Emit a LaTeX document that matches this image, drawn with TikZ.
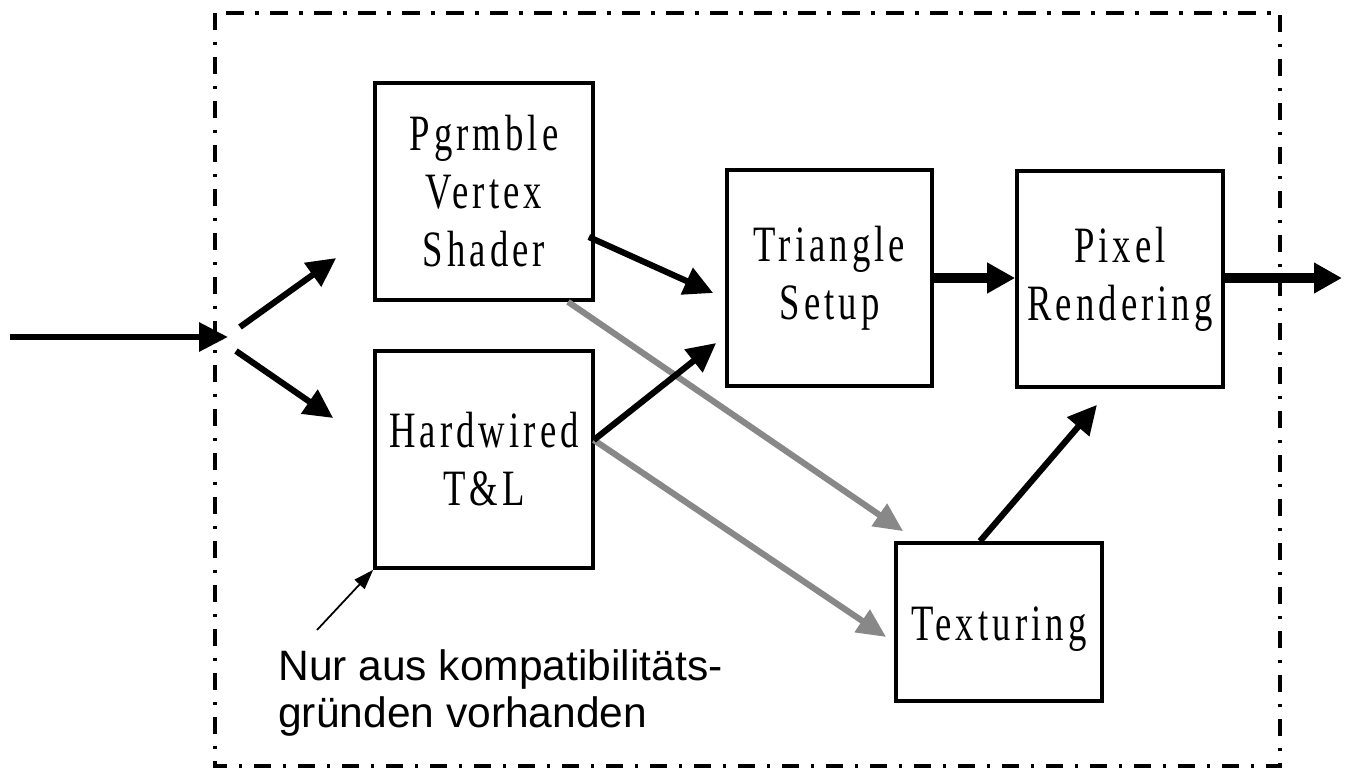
\documentclass[tikz,border=0pt]{standalone}
\usepackage{fontspec}
\setmainfont{Liberation Serif}
\newfontfamily\boxfont{Liberation Serif}[FakeStretch=0.72,LetterSpace=8]
\newfontfamily\notefont{Liberation Sans}
\usetikzlibrary{arrows.meta,calc}
\definecolor{arrowgray}{RGB}{136,136,136}
\tikzset{
  stage/.style={draw=black, line width=2.1pt, inner sep=0pt, align=center,
    font=\boxfont\fontsize{29}{33}\selectfont},
  blk/.style={draw=black, line width=3.5pt, -{Triangle[length=0.58cm,width=0.56cm]}},
  heavy/.style={draw=black, line width=5.2pt, -{Triangle[length=0.56cm,width=0.58cm]}},
  gry/.style={draw=arrowgray, line width=3.5pt, -{Triangle[length=0.58cm,width=0.52cm]}},
  pointer/.style={draw=black, line width=1pt, -{Triangle[length=0.4cm,width=0.27cm]}},
  frame/.style={draw=black, line width=2.1pt, dash pattern=on 0.35cm off 0.23cm on 0.07cm off 0.23cm},
  note/.style={inner sep=0pt, font=\notefont\fontsize{24.2}{28}\selectfont}
}
\begin{document}
\begin{tikzpicture}[x=0.02cm,y=-0.02cm]
\useasboundingbox (0,0) rectangle (1345,774);
% dash-dot frame
\draw[frame] (215,13) rectangle (1280,766);
% stages
\node[stage, minimum width=4.36cm, minimum height=4.34cm] (shader) at (484,191.5) {Pgrmble\\Vertex\\Shader};
\node[stage, minimum width=4.36cm, minimum height=4.34cm] (hw) at (484,459.5) {Hardwired\\T\&L};
\node[stage, minimum width=4.10cm, minimum height=4.32cm] (tri) at (829.5,278) {Triangle\\Setup};
\node[stage, minimum width=4.12cm, minimum height=4.32cm] (pix) at (1120,279) {Pixel\\Rendering};
\node[stage, minimum width=4.12cm, minimum height=3.16cm, text height=0.75cm, text depth=0pt] (tex) at (999,622) {Texturing};
% free ends
\coordinate (in) at (10,337);
\coordinate (split) at (228,337);
\coordinate (out) at (1342,278);
\coordinate (noteptr) at (317,630);
% input and split
\draw[blk] (in) -- (split);
\draw[blk] ($(split)+(12,-10)$) -- ($(shader.west)+(-37,66.5)$);
\draw[blk] ($(split)+(8,14)$) -- ($(hw.west)+(-40,-41.5)$);
% gray arrows to texturing
\draw[gry] ($(shader.south)+(84,0)$) -- ($(tex.north west)+(9,-10)$);
\draw[gry] ($(hw.east)+(-1,-19.5)$) -- ($(tex.west)+(-8,15)$);
% black arrows to triangle setup
\draw[blk] ($(shader.east)+(-6,45.5)$) -- ($(tri.west)+(-12,15)$);
\draw[blk] ($(hw.east)+(-1,-19.5)$) -- ($(tri.west)+(-9,65)$);
% triangle -> pixel -> out
\draw[heavy] (tri.east) -- (tri.east -| pix.west);
\draw[heavy] (pix.east |- out) -- (out);
% texturing -> pixel
\draw[blk] ($(tex.north)+(-19,0)$) -- ($(pix.south)+(-23,16)$);
% annotation
\node[note, anchor=base west] (note1) at (278,680) {Nur aus kompatibilitäts-};
\node[note, anchor=base west] (note2) at (278,727) {gründen vorhanden};
\draw[pointer] (noteptr) -- (hw.south west);
\end{tikzpicture}
\end{document}
